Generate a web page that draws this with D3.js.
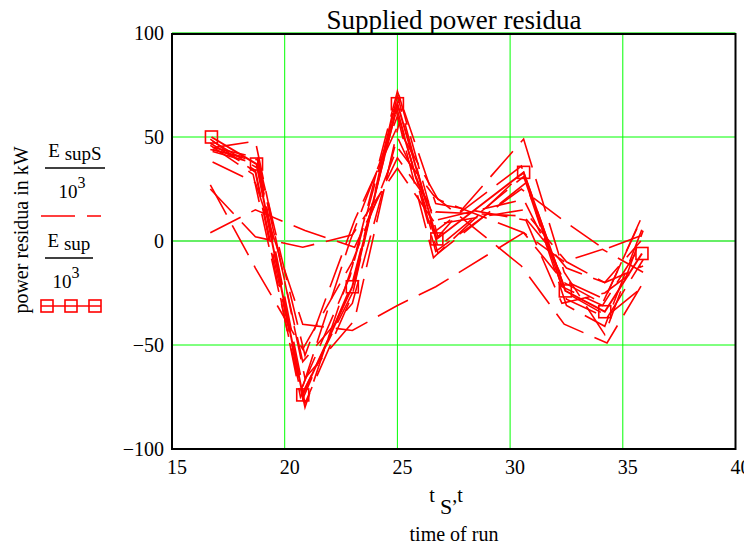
<!DOCTYPE html>
<html>
<head>
<meta charset="utf-8">
<script src="https://cdn.jsdelivr.net/npm/d3@7/dist/d3.min.js"></script>
<style>
  html, body { margin: 0; padding: 0; background: #fff; }
  svg { display: block; font-family: "Liberation Serif", "Times New Roman", serif; }
</style>
</head>
<body>
<svg id="chart" width="744" height="547"></svg>
<script>
// Supplied power residua (kW) for each run, divided by 10^3
// Mean run: E_sup / 10^3 against t
const tSup = [16.75, 18.75, 20.8, 23.0, 25.0, 26.75, 30.6, 32.45, 34.2, 35.85];
const eSup = [50, 37, -74, -22, 66, 1, 33, -24, -34, -6];

// Individual runs: E_supS / 10^3 against t_S
const tSupS = [
  [16.8, 18.8, 20.9, 23.0, 25.0, 26.8, 30.6, 32.5, 34.3, 35.9],
  [16.7, 18.6, 20.7, 22.9, 24.9, 26.6, 30.5, 32.3, 34.1, 35.8],
  [16.9, 18.7, 20.9, 23.1, 25.1, 26.8, 30.7, 32.5, 34.2, 35.9],
  [16.7, 18.8, 20.8, 23.0, 25.0, 26.7, 30.6, 32.4, 34.2, 35.9],
  [16.7, 18.7, 20.8, 23.0, 25.0, 26.6, 30.5, 32.4, 34.3, 35.9],
  [16.7, 18.7, 20.9, 23.1, 25.0, 26.7, 30.6, 32.5, 34.2, 35.8],
  [16.8, 18.7, 20.8, 23.0, 25.0, 26.7, 30.6, 32.4, 34.1, 35.9],
  [16.8, 18.8, 20.8, 23.0, 25.1, 26.8, 30.6, 32.4, 34.2, 35.9],
  [16.7, 18.7, 20.9, 23.0, 25.0, 26.7, 30.7, 32.3, 34.2, 35.8],
  [16.8, 18.8, 20.8, 22.9, 25.0, 26.6, 30.6, 32.5, 34.3, 35.9],
  [16.7, 18.7, 20.7, 23.0, 24.9, 26.7, 30.5, 32.6, 34.2, 35.9],
  [16.8, 18.8, 20.9, 23.1, 25.0, 26.8, 30.6, 32.4, 34.1, 35.8],
  [16.7, 18.7, 20.8, 23.0, 25.0, 26.7, 30.6, 32.5, 34.2, 35.9]
];
const eSupS = [
  [48, 35, -78, -26, 70, -3, 31, -28, -37, -9],
  [46, 32, -72, -17, 64, 4, 36, -22, -31, -2],
  [45, 48, -66, -38, 58, -6, 28, -31, -41, 7],
  [44, 39, -58, -30, 50, 10, 20, -19, -28, 13],
  [27, -13, -52, -10, 45, 22, -12, -40, -49, -20],
  [4, 15, 5, -3, 40, 14, 12, -13, -20, 0],
  [38, 28, -40, -43, -31, -22, 4, -10, -4, -15],
  [43, 37, -76, -20, 69, 2, 49, -15, -45, 5],
  [47, 34, -80, -12, 72, 18, 10, -30, -25, -12],
  [44, 38, -70, 0, 60, -8, 33, -25, -36, -22],
  [49, 33, -75, -25, 67, -5, 25, 8, -4, 3],
  [45, 40, -55, 10, 55, 20, 4, -20, -30, 10],
  [25, 2, -3, 3, 35, 8, 15, -10, -20, -12]
];

const xTicks = [15, 20, 25, 30, 35, 40];
const yTicks = [-100, -50, 0, 50, 100];

const svg = d3.select("#chart");
const x = d3.scaleLinear().domain([15, 40]).range([172, 735.5]);
const y = d3.scaleLinear().domain([-100, 100]).range([449, 33]);

const red = "#ff0000";
const green = "#00ff00";

// grid
const grid = svg.append("g");
grid.selectAll("line.gx").data(xTicks.slice(1)).enter().append("line")
  .attr("x1", d => x(d)).attr("x2", d => x(d))
  .attr("y1", y(-100)).attr("y2", y(100))
  .attr("stroke", green).attr("stroke-width", 1);
grid.selectAll("line.gy").data(yTicks.slice(1)).enter().append("line")
  .attr("x1", x(15)).attr("x2", x(40))
  .attr("y1", d => y(d)).attr("y2", d => y(d))
  .attr("stroke", d => (d === 0 || d === 100) ? "#66ee66" : green)
  .attr("stroke-width", d => (d === 0 || d === 100) ? 2 : 1);

// frame
svg.append("rect")
  .attr("x", x(15)).attr("y", y(100) + 1)
  .attr("width", x(40) - x(15)).attr("height", y(-100) - y(100) - 1)
  .attr("fill", "none").attr("stroke", "#000").attr("stroke-width", 2);

// tick labels
svg.append("g").selectAll("text").data(xTicks).enter().append("text")
  .attr("x", d => x(d) + 5).attr("y", 474)
  .attr("text-anchor", "middle").attr("font-size", 20)
  .text(d => d);
svg.append("g").selectAll("text").data(yTicks).enter().append("text")
  .attr("x", 164).attr("y", d => y(d) + 7)
  .attr("text-anchor", "end").attr("font-size", 20)
  .text(d => d < 0 ? "\u2212" + Math.abs(d) : d);

// dashed runs
const line = d3.line().x(d => x(d[0])).y(d => y(d[1]));
const runs = svg.append("g");
eSupS.forEach((vals, i) => {
  const pts = vals.map((v, j) => [tSupS[i][j], v]);
  runs.append("path")
    .attr("d", line(pts))
    .attr("fill", "none").attr("stroke", red).attr("stroke-width", 1.6)
    .attr("stroke-dasharray", "34,12");
});

// mean run with square markers
const mean = tSup.map((t, j) => [t, eSup[j]]);
svg.append("path").attr("d", line(mean))
  .attr("fill", "none").attr("stroke", red).attr("stroke-width", 2);
svg.append("g").selectAll("rect").data(mean).enter().append("rect")
  .attr("x", d => x(d[0]) - 6).attr("y", d => y(d[1]) - 6)
  .attr("width", 12).attr("height", 12)
  .attr("fill", "none").attr("stroke", red).attr("stroke-width", 1.6);

// title
svg.append("text").attr("x", 454).attr("y", 29)
  .attr("text-anchor", "middle").attr("font-size", 27)
  .text("Supplied power residua");

// x axis labels
const xl = svg.append("text").attr("x", 446).attr("y", 502)
  .attr("text-anchor", "middle").attr("font-size", 20);
xl.append("tspan").text("t ");
xl.append("tspan").attr("dy", 12).attr("font-size", 22).text("S");
xl.append("tspan").attr("dy", -12).text(",t");
svg.append("text").attr("x", 454).attr("y", 541)
  .attr("text-anchor", "middle").attr("font-size", 20)
  .text("time of run");

// y axis title
svg.append("text")
  .attr("transform", "translate(28,230) rotate(-90)")
  .attr("text-anchor", "middle").attr("font-size", 20)
  .text("power residua in kW");

// legend
const lg = svg.append("g");
function fraction(xc, yNum, sub, barW) {
  const t = lg.append("text").attr("x", xc).attr("y", yNum)
    .attr("text-anchor", "middle").attr("font-size", 19);
  t.append("tspan").text("E ");
  t.append("tspan").attr("dy", 3).text(sub);
  lg.append("line").attr("x1", xc - barW / 2).attr("x2", xc + barW / 2)
    .attr("y1", yNum + 11).attr("y2", yNum + 11)
    .attr("stroke", "#000").attr("stroke-width", 1.5);
  const d = lg.append("text").attr("x", xc - 3).attr("y", yNum + 41)
    .attr("text-anchor", "middle").attr("font-size", 19);
  d.append("tspan").text("10");
  d.append("tspan").attr("dy", -10).attr("font-size", 16).text("3");
}
fraction(75, 157, "supS", 60);
lg.append("line").attr("x1", 41).attr("x2", 101).attr("y1", 216).attr("y2", 216)
  .attr("stroke", red).attr("stroke-width", 1.6).attr("stroke-dasharray", "34,12");
fraction(69, 247, "sup", 48);
lg.append("line").attr("x1", 41).attr("x2", 101).attr("y1", 306).attr("y2", 306)
  .attr("stroke", red).attr("stroke-width", 1.6);
lg.selectAll("rect").data([47, 71, 95]).enter().append("rect")
  .attr("x", d => d - 6).attr("y", 300).attr("width", 12).attr("height", 12)
  .attr("fill", "none").attr("stroke", red).attr("stroke-width", 1.6);
</script>
</body>
</html>
